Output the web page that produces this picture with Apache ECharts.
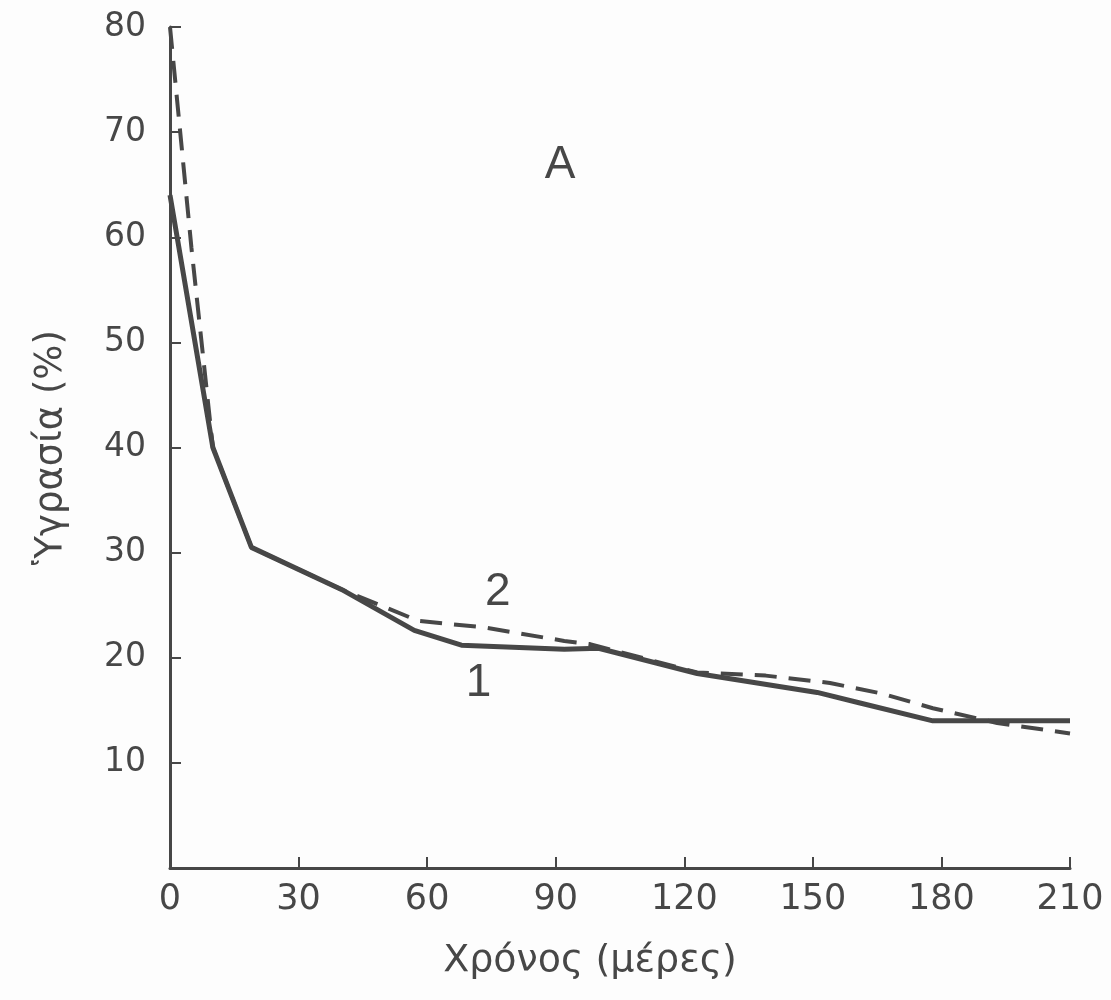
<!DOCTYPE html>
<html>
<head>
<meta charset="utf-8">
<script src="https://cdn.jsdelivr.net/npm/echarts@6/dist/echarts.min.js"></script>
<style>
  html, body { margin: 0; padding: 0; background: #fdfdfd; }
  #chart { width: 1111px; height: 1000px; }
</style>
</head>
<body>
<div id="chart"></div>
<script>
// curve 1 (solid) and curve 2 (dashed): [day, moisture %]
const curve1 = [
  [0, 64], [10, 40], [19, 30.5], [40, 26.5], [57, 22.6], [68, 21.2],
  [92, 20.8], [100, 20.9], [123, 18.5], [151, 16.7], [161, 15.7],
  [178, 14.0], [210, 14.0]
];
const curve2 = [
  [0, 80], [5, 59], [10, 40], [19, 30.5], [40, 26.5], [58, 23.5],
  [73, 22.9], [92, 21.6], [98, 21.3], [123, 18.6], [139, 18.3],
  [154, 17.6], [166, 16.6], [178, 15.2], [193, 13.8], [210, 12.8]
];
const xTicks = [0, 30, 60, 90, 120, 150, 180, 210];
const yTicks = [10, 20, 30, 40, 50, 60, 70, 80];

// curve tags and panel letter, placed in data coordinates
const tags = [
  { text: '1', at: [72, 17.6] },
  { text: '2', at: [76.5, 26.2] },
  { text: 'A', at: [91, 66.8] }
];

const ink = '#474747';
const font = '"DejaVu Sans", sans-serif';

const chart = echarts.init(document.getElementById('chart'));

chart.setOption({
  animation: false,
  backgroundColor: '#fdfdfd',
  grid: { left: 170, right: 41, top: 27, bottom: 132 },
  xAxis: {
    type: 'value',
    min: 0,
    max: 210,
    interval: 30,
    name: 'Χρόνος (μέρες)',
    nameLocation: 'middle',
    nameGap: 74,
    nameTextStyle: { color: ink, fontSize: 38, fontFamily: font, padding: [0, 60, 0, 0] },
    axisLine: { lineStyle: { color: ink, width: 3 } },
    axisTick: { inside: true, length: 11, lineStyle: { color: ink, width: 2 } },
    axisLabel: {
      color: ink, fontSize: 35, fontFamily: font, margin: 14,
      formatter: v => xTicks.includes(v) ? String(v) : ''
    },
    splitLine: { show: false }
  },
  yAxis: {
    type: 'value',
    min: 0,
    max: 80,
    interval: 10,
    name: 'Ὑγρασία (%)',
    nameLocation: 'middle',
    nameGap: 100,
    nameTextStyle: { color: ink, fontSize: 37, fontFamily: font },
    axisLine: { lineStyle: { color: ink, width: 3 } },
    axisTick: { inside: true, length: 11, lineStyle: { color: ink, width: 2 } },
    axisLabel: {
      color: ink, fontSize: 33, fontFamily: font, margin: 24,
      formatter: v => yTicks.includes(v) ? String(v) : ''
    },
    splitLine: { show: false }
  },
  series: [
    {
      name: '1',
      type: 'line',
      data: curve1,
      symbol: 'none',
      lineStyle: { color: ink, width: 5 },
      markPoint: {
        symbol: 'circle',
        symbolSize: 1,
        silent: true,
        itemStyle: { color: 'rgba(0,0,0,0)' },
        label: {
          show: true, position: 'inside', formatter: p => p.name,
          color: ink, fontSize: 46, fontFamily: '"Liberation Sans", sans-serif'
        },
        data: tags.map(t => ({ name: t.text, coord: t.at }))
      }
    },
    {
      name: '2',
      type: 'line',
      data: curve2,
      symbol: 'none',
      lineStyle: { color: ink, width: 4, type: [22, 12] }
    }
  ]
});

window.addEventListener('resize', () => chart.resize());
</script>
</body>
</html>
